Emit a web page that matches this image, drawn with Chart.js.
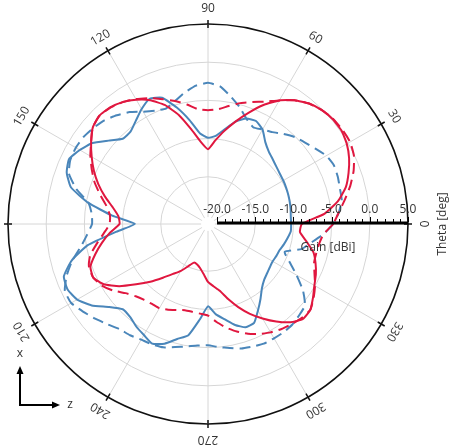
<!DOCTYPE html>
<html>
<head>
<meta charset="utf-8">
<script src="https://cdn.jsdelivr.net/npm/chart.js@4/dist/chart.umd.min.js"></script>
<style>
  html, body { margin: 0; padding: 0; background: #fff; }
  #wrap { width: 452px; height: 448px; position: relative; }
</style>
</head>
<body>
<div id="wrap"><canvas id="polar"></canvas></div>
<script>
// Theta samples (deg), counter-clockwise from +z axis
const thetaDeg = Array.from({ length: 72 }, (_, i) => i * 5);
const thetaTicks = [0, 30, 60, 90, 120, 150, 180, 210, 240, 270, 300, 330];
const gainTicks = [-20, -15, -10, -5, 0, 5];

// Gain [dBi] per theta sample
const gainRed = [
  -8.9, -5.9, -3.9, -2.5, -1.6, -0.8, -0.2, 0.15, 0.15, -0.1, -0.6, -1.4,
  -2.5, -4.0, -5.7, -7.3, -8.8, -10.2, -11.4, -10.4, -8.6, -6.4, -4.6, -3.3,
  -2.4, -1.7, -1.25, -1.1, -1.5, -2.5, -3.6, -4.7, -5.9, -7.2, -8.5, -9.4,
  -9.6, -8.3, -7.1, -5.9, -4.8, -4.6, -5.4, -7.0, -8.9, -10.5, -12.0, -13.2,
  -14.1, -15.1, -15.8, -15.7, -15.3, -14.6, -13.6, -13.0, -12.3, -11.0, -9.6, -8.2,
  -6.9, -5.6, -4.4, -3.6, -3.7, -4.4, -5.1, -5.6, -6.2, -6.9, -8.1, -9.1
];
const gainRedDashed = [
  -4.8, -4.0, -3.0, -1.9, -0.9, -0.1, 0.3, 0.3, 0.2, -0.1, -0.6, -1.4,
  -2.5, -3.5, -4.2, -4.8, -5.5, -6.1, -6.3, -6.1, -5.3, -4.5, -3.8, -3.0,
  -2.3, -1.7, -1.3, -1.1, -1.5, -2.5, -3.4, -4.4, -5.4, -6.6, -7.7, -8.3,
  -8.3, -7.5, -6.4, -5.2, -4.6, -4.6, -5.1, -6.0, -7.1, -7.8, -8.2, -8.4,
  -8.45, -8.8, -9.2, -9.5, -9.5, -9.4, -9.2, -8.3, -7.4, -6.6, -5.9, -5.3,
  -4.8, -4.4, -4.1, -3.8, -3.7, -4.3, -5.0, -5.8, -6.4, -6.5, -6.4, -6.0
];
const gainBlue = [
  -10.3, -10.3, -10.2, -10.1, -10.0, -9.9, -9.8, -9.7, -9.5, -9.2, -8.8, -8.1,
  -6.9, -6.3, -6.5, -7.3, -8.6, -9.6, -9.9, -9.3, -7.4, -5.4, -3.6, -3.1,
  -3.8, -4.7, -5.4, -5.4, -4.2, -2.7, -1.8, -1.1, -1.5, -2.6, -5.3, -8.6,
  -11.6, -9.0, -5.2, -2.7, -1.1, -0.9, -1.4, -2.6, -4.3, -5.4, -5.3, -4.8,
  -4.4, -3.9, -4.5, -5.6, -6.4, -8.6, -10.4, -9.3, -8.5, -7.5, -6.8, -6.9,
  -8.1, -9.2, -10.2, -10.8, -11.1, -11.3, -11.4, -11.3, -11.2, -10.9, -10.6, -10.3
];
const gainBlueDashed = [
  -4.8, -4.0, -3.4, -3.3, -3.1, -3.0, -3.3, -4.0, -4.6, -5.1, -5.8, -6.5,
  -6.9, -7.2, -6.5, -5.3, -4.2, -3.1, -2.7, -3.0, -3.7, -4.5, -5.1, -4.8,
  -4.2, -3.3, -2.6, -2.0, -1.6, -1.3, -1.2, -1.3, -1.8, -3.3, -5.3, -5.9,
  -6.0, -5.3, -4.3, -2.8, -1.5, -0.5, -0.5, -1.2, -1.9, -2.6, -3.2, -3.4,
  -3.7, -3.8, -4.0, -4.5, -4.9, -5.2, -5.3, -5.0, -4.7, -4.3, -4.1, -3.9,
  -3.9, -3.9, -4.0, -4.3, -4.6, -6.0, -7.8, -9.4, -10.5, -8.5, -7.4, -6.0
];

const RED = '#e0173f';
const BLUE = '#4a86ba';
const TEXT = '#333333';
const FONT = '"Open Sans", "Noto Sans", sans-serif';

// Radar scale runs clockwise from startAngle; theta runs counter-clockwise,
// so sample k sits at category index (N - k) % N.
const N = thetaDeg.length;
const order = thetaDeg.map((_, i) => (N - i) % N);
const labels = order.map(k => thetaDeg[k]);
const reorder = arr => order.map(k => arr[k]);

const rad = d => d * Math.PI / 180;

const polarDecor = {
  id: 'polarDecor',
  beforeDatasetsDraw(chart) {
    const s = chart.scales.r, ctx = chart.ctx;
    ctx.save();
    ctx.fillStyle = '#fff';
    ctx.beginPath();
    ctx.arc(s.xCenter, s.yCenter, 7, 0, Math.PI * 2);
    ctx.fill();
    ctx.restore();
  },
  afterDatasetsDraw(chart) {
    const s = chart.scales.r, ctx = chart.ctx;
    const cx = s.xCenter, cy = s.yCenter, R = s.drawingArea;
    ctx.save();

    // tick marks across the outer ring
    ctx.strokeStyle = '#111';
    ctx.lineWidth = 1.5;
    thetaTicks.forEach(t => {
      const c = Math.cos(rad(-t)), sn = Math.sin(rad(-t));
      ctx.beginPath();
      ctx.moveTo(cx + (R - 4) * c, cy + (R - 4) * sn);
      ctx.lineTo(cx + (R + 4) * c, cy + (R + 4) * sn);
      ctx.stroke();
    });

    // theta labels, written along the ring
    ctx.fillStyle = TEXT;
    ctx.font = '12px ' + FONT;
    ctx.textAlign = 'center';
    ctx.textBaseline = 'middle';
    thetaTicks.forEach(t => {
      const c = Math.cos(rad(-t)), sn = Math.sin(rad(-t));
      ctx.save();
      ctx.translate(cx + (R + 15) * c, cy + (R + 15) * sn);
      ctx.rotate(rad(90 - t));
      ctx.fillText(String(t), 0, 0);
      ctx.restore();
    });

    // radial gain axis along theta = 0
    const ay = cy - 1;
    const xv = v => cx + s.getDistanceFromCenterForValue(v);
    const lo = gainTicks[0], hi = gainTicks[gainTicks.length - 1];
    ctx.strokeStyle = '#000';
    ctx.lineWidth = 3;
    ctx.beginPath();
    ctx.moveTo(xv(lo), ay);
    ctx.lineTo(xv(hi), ay);
    ctx.stroke();
    ctx.lineWidth = 1;
    for (let v = lo; v <= hi; v += 1) {
      const major = gainTicks.includes(v);
      const x = Math.round(xv(v)) + 0.5;
      ctx.beginPath();
      ctx.moveTo(x, ay - 1);
      ctx.lineTo(x, ay - (major ? 6 : 4));
      ctx.stroke();
    }
    ctx.fillStyle = TEXT;
    ctx.font = '12px ' + FONT;
    ctx.textAlign = 'center';
    ctx.textBaseline = 'middle';
    gainTicks.forEach(v => ctx.fillText(v.toFixed(1), xv(v), ay - 13));
    ctx.fillText('Gain [dBi]', cx + 0.6 * R, cy + 24);

    ctx.save();
    ctx.translate(cx + R + 35, cy);
    ctx.rotate(-Math.PI / 2);
    ctx.fillText('Theta [deg]', 0, 0);
    ctx.restore();

    // coordinate frame marker
    const ox = 20, oy = 405;
    ctx.strokeStyle = '#000';
    ctx.fillStyle = '#000';
    ctx.lineWidth = 2;
    ctx.beginPath();
    ctx.moveTo(ox, oy - 33); ctx.lineTo(ox, oy); ctx.lineTo(ox + 34, oy);
    ctx.stroke();
    ctx.beginPath();
    ctx.moveTo(ox, oy - 39); ctx.lineTo(ox - 3.5, oy - 31); ctx.lineTo(ox + 3.5, oy - 31);
    ctx.closePath(); ctx.fill();
    ctx.beginPath();
    ctx.moveTo(ox + 40, oy); ctx.lineTo(ox + 32, oy - 3.5); ctx.lineTo(ox + 32, oy + 3.5);
    ctx.closePath(); ctx.fill();
    ctx.fillStyle = TEXT;
    ctx.font = '12px ' + FONT;
    ctx.fillText('x', ox, oy - 51);
    ctx.fillText('z', ox + 50, oy);

    ctx.restore();
  }
};

const line = (data, color, dashed) => ({
  data: reorder(data),
  borderColor: color,
  borderWidth: 2,
  borderDash: dashed ? [11, 6] : [],
  fill: false,
  pointRadius: 0,
  tension: 0.15
});

new Chart(document.getElementById('polar'), {
  type: 'radar',
  data: {
    labels: labels,
    datasets: [
      line(gainRed, RED, false),
      line(gainRedDashed, RED, true),
      line(gainBlue, BLUE, false),
      line(gainBlueDashed, BLUE, true)
    ]
  },
  options: {
    responsive: true,
    maintainAspectRatio: false,
    animation: false,
    layout: { padding: { left: 8, right: 44, top: 24, bottom: 24 } },
    plugins: { legend: { display: false }, tooltip: { enabled: false } },
    scales: {
      r: {
        min: -21.18,
        max: 5,
        startAngle: 90,
        afterBuildTicks: scale => { scale.ticks = gainTicks.map(v => ({ value: v })); },
        ticks: { display: false },
        pointLabels: { display: false },
        grid: {
          circular: true,
          color: c => c.tick.value === gainTicks[0] ? 'rgba(0,0,0,0)'
            : (c.tick.value === gainTicks[gainTicks.length - 1] ? '#111' : '#d6d6d6'),
          lineWidth: c => c.tick.value === gainTicks[gainTicks.length - 1] ? 1.6 : 1
        },
        angleLines: {
          color: c => (c.index % 6 === 0) ? '#d6d6d6' : 'rgba(0,0,0,0)',
          lineWidth: 1
        }
      }
    }
  },
  plugins: [polarDecor]
});
</script>
</body>
</html>
